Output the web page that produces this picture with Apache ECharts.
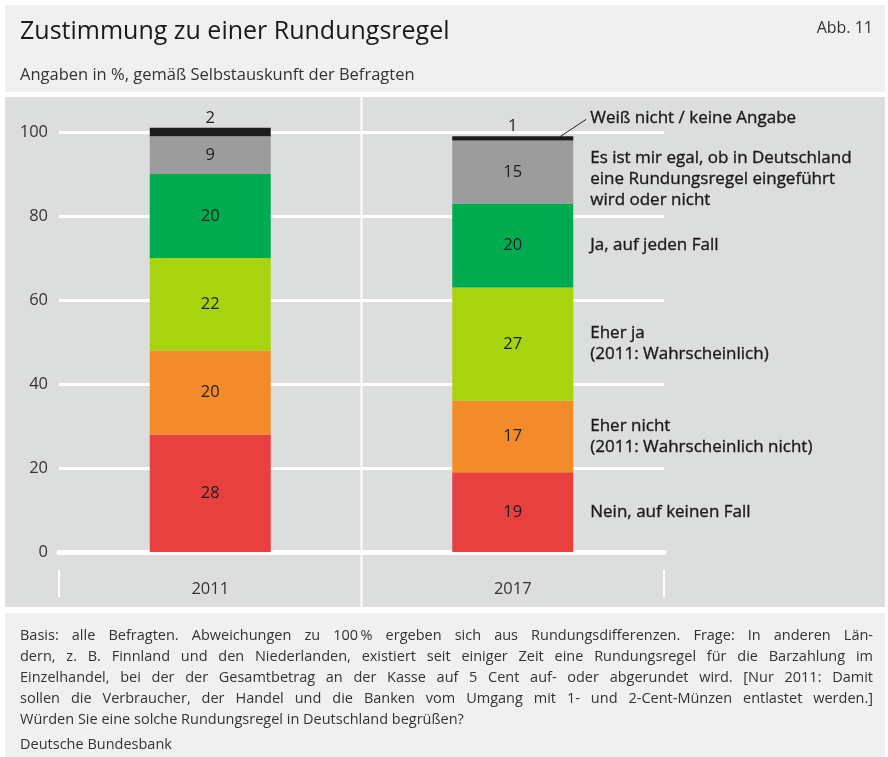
<!DOCTYPE html>
<html>
<head>
<meta charset="utf-8">
<script src="https://cdn.jsdelivr.net/npm/echarts@6/dist/echarts.min.js"></script>
<style>
  html, body { margin: 0; padding: 0; background: #fff; }
  #wrap { position: relative; width: 888px; height: 757px; }
  #main { width: 888px; height: 757px; }
  #note { position: absolute; left: 20px; top: 624px; width: 853px;
          font-family: "Open Sans", "Noto Sans", sans-serif; font-size: 14.5px; color: #333; line-height: 21px; }
  #note div { white-space: nowrap; text-align: left; }
  #note div.just { white-space: normal; text-align: justify; text-align-last: justify; }
  #note div.src { margin-top: 4px; }
</style>
</head>
<body>
<div id="wrap">
  <div id="main"></div>
  <div id="note"></div>
</div>
<script>
(function() {

    // Daten (Angaben in %)
    var years = ['2011', '2017'];
    var nein = [28, 19];
    var eherNicht = [20, 17];
    var eherJa = [22, 27];
    var jaFall = [20, 20];
    var egal = [9, 15];
    var weissNicht = [2, 1];
    var yTicks = [0, 20, 40, 60, 80, 100];

    var answerLabels = [
        'Nein, auf keinen Fall',
        'Eher nicht\n(2011: Wahrscheinlich nicht)',
        'Eher ja\n(2011: Wahrscheinlich)',
        'Ja, auf jeden Fall',
        'Es ist mir egal, ob in Deutschland\neine Rundungsregel eingeführt\nwird oder nicht',
        'Weiß nicht / keine Angabe'
    ];

    var title = 'Zustimmung zu einer Rundungsregel';
    var figNo = 'Abb. 11';
    var subtitle = 'Angaben in %, gemäß Selbstauskunft der Befragten';
    var footnote = [
        'Basis: alle Befragten. Abweichungen zu 100\u2009% ergeben sich aus Rundungsdifferenzen. Frage: In anderen Län-',
        'dern, z. B. Finnland und den Niederlanden, existiert seit einiger Zeit eine Rundungsregel für die Barzahlung im',
        'Einzelhandel, bei der der Gesamtbetrag an der Kasse auf 5 Cent auf- oder abgerundet wird. [Nur 2011: Damit',
        'sollen die Verbraucher, der Handel und die Banken vom Umgang mit 1- und 2-Cent-Münzen entlastet werden.]',
        'Würden Sie eine solche Rundungsregel in Deutschland begrüßen?'
    ];
    var source = 'Deutsche Bundesbank';

    var stacks = [nein, eherNicht, eherJa, jaFall, egal, weissNicht];
    var colors = ['#e8403e', '#f38b2b', '#a8d30f', '#00aa4f', '#9c9c9c', '#1c1c1c'];
    var font = '"Open Sans", "Noto Sans", sans-serif';
    var textColor = '#1e1e1e';

    var myChart = echarts.init(document.getElementById('main'), null, {renderer: 'canvas'});

    var series = [];
    for (var i = 0; i < stacks.length; i++) {
        var isTop = i === stacks.length - 1;
        series.push({
            name: answerLabels[i],
            type: 'bar',
            stack: 'total',
            barWidth: '40%',
            clip: false,
            data: stacks[i],
            itemStyle: { color: colors[i] },
            label: {
                show: true,
                position: isTop ? 'top' : 'inside',
                distance: 1,
                color: textColor,
                fontFamily: font,
                fontSize: 16.5
            }
        });
    }

    var option = {
        backgroundColor: '#fff',
        animation: false,
        grid: { left: 59, right: 224, top: 132, bottom: 205 },
        xAxis: {
            type: 'category',
            data: years,
            axisLine: { show: true, lineStyle: { color: '#fff', width: 5 } },
            axisTick: { show: false },
            axisLabel: { color: '#333', fontFamily: font, fontSize: 16.5, margin: 29 }
        },
        yAxis: {
            type: 'value',
            min: yTicks[0],
            max: yTicks[yTicks.length - 1],
            interval: 20,
            axisLine: { show: false },
            axisTick: { show: false },
            axisLabel: { color: '#333', fontFamily: font, fontSize: 16.5, margin: 11 },
            splitLine: { lineStyle: { color: '#fff', width: 3 } }
        },
        series: series
    };
    myChart.setOption(option);

    // Hintergrund, Titel und Beschriftungen rechts neben dem Balken 2017
    var graphics = [
        { type: 'rect', z: -100, shape: { x: 5, y: 5, width: 880, height: 87 }, style: { fill: '#f0f0f0' } },
        { type: 'rect', z: -100, shape: { x: 5, y: 97, width: 880, height: 510 }, style: { fill: '#dcdddd' } },
        { type: 'rect', z: -100, shape: { x: 5, y: 613, width: 880, height: 144 }, style: { fill: '#f0f0f0' } },
        { type: 'text', x: 20, y: 32, style: { text: title, fill: '#1a1a1a', font: '25px ' + font, verticalAlign: 'middle' } },
        { type: 'text', x: 873, y: 28, style: { text: figNo, fill: '#333', font: '16px ' + font, align: 'right', verticalAlign: 'middle' } },
        { type: 'text', x: 20, y: 75, style: { text: subtitle, fill: '#333', font: '16.5px ' + font, verticalAlign: 'middle' } }
    ];

    var left = myChart.convertToPixel({gridIndex: 0}, [years[0], 0]);
    var right = myChart.convertToPixel({gridIndex: 0}, [years[1], 0]);
    var gridLeft = 59, gridRight = 888 - 224;
    var mid = (left[0] + right[0]) / 2;
    graphics.push(
        { type: 'line', z: 5, shape: { x1: mid, y1: 97, x2: mid, y2: 607 }, style: { stroke: '#fff', lineWidth: 2 } },
        { type: 'line', z: 5, shape: { x1: gridLeft, y1: 570, x2: gridLeft, y2: 597 }, style: { stroke: '#fff', lineWidth: 2 } },
        { type: 'line', z: 5, shape: { x1: gridRight, y1: 570, x2: gridRight, y2: 597 }, style: { stroke: '#fff', lineWidth: 2 } }
    );

    // Legendentexte an den Segmentmitten des Balkens 2017
    var barHalf = (right[0] - left[0]) * 0.4 / 2;
    var textX = right[0] + barHalf + 17;
    var offsets = [0, 0, 0, 0, 7, -20];
    var cum = 0;
    for (var k = 0; k < stacks.length; k++) {
        var v = stacks[k][1];
        var p = myChart.convertToPixel({gridIndex: 0}, [years[1], cum + v / 2]);
        cum += v;
        graphics.push({
            type: 'text', x: textX, y: p[1] + offsets[k],
            style: {
                text: answerLabels[k], fill: '#1a1a1a', font: '17px ' + font,
                stroke: '#1a1a1a', lineWidth: 0.35,
                verticalAlign: 'middle', lineHeight: 21
            }
        });
        if (k === stacks.length - 1) {
            var topPt = myChart.convertToPixel({gridIndex: 0}, [years[1], cum]);
            graphics.push({
                type: 'line', z: 5,
                shape: { x1: right[0] + barHalf - 14, y1: topPt[1] + 1, x2: textX - 4, y2: p[1] + offsets[k] + 1 },
                style: { stroke: '#222', lineWidth: 1 }
            });
        }
    }

    myChart.setOption({ graphic: graphics });

    // Fussnote als Blocksatz
    var note = document.getElementById('note');
    for (var n = 0; n < footnote.length; n++) {
        var d = document.createElement('div');
        d.textContent = footnote[n];
        if (n < footnote.length - 1) d.className = 'just';
        note.appendChild(d);
    }
    var s = document.createElement('div');
    s.className = 'src';
    s.textContent = source;
    note.appendChild(s);

})();
</script>
</body>
</html>
